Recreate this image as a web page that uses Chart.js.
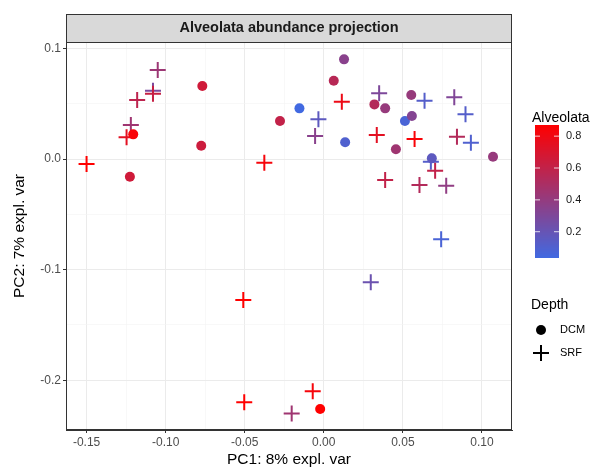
<!DOCTYPE html>
<html>
<head>
<meta charset="utf-8">
<script src="https://cdn.jsdelivr.net/npm/chart.js@4.4.1/dist/chart.umd.min.js"></script>
<style>
  html, body { margin: 0; padding: 0; background: #fff; }
  canvas { display: block; }
</style>
</head>
<body>
<canvas id="myChart" width="603" height="470"></canvas>
<script>
// DCM samples (circles)
const dcmX = [-0.1205, -0.1226, -0.0768, -0.0775, -0.0277, 0.0128, 0.0063, -0.0154, 0.0135,
  0.032, 0.0388, 0.0553, 0.0513, 0.0557, 0.0456, 0.107, 0.0683, -0.0023];
const dcmY = [0.0223, -0.016, 0.066, 0.012, 0.0344, 0.0901, 0.0708, 0.0458, 0.0151,
  0.0494, 0.0458, 0.0579, 0.0344, 0.0389, 0.0088, 0.0021, 0.0006, -0.226];
const dcmAlv = [0.845, 0.66, 0.66, 0.645, 0.60, 0.35, 0.555, 0.035, 0.10,
  0.535, 0.41, 0.41, 0.075, 0.33, 0.45, 0.41, 0.16, 0.87];

// SRF samples (crosses)
const srfX = [-0.150, -0.105, -0.108, -0.108, -0.118, -0.122, -0.1247, -0.0376, 0.0114, -0.0034,
  -0.0055, 0.035, 0.0335, 0.0637, 0.0574, 0.0825, 0.0896, 0.0842, 0.093, 0.0677,
  0.0704, 0.0388, 0.0605, 0.0774, -0.0509, -0.0503, 0.0742, 0.0297, -0.007, -0.0203];
const srfY = [-0.0045, 0.0805, 0.0618, 0.059, 0.0533, 0.0307, 0.0196, -0.0033, 0.0518, 0.0359,
  0.0208, 0.0594, 0.0217, 0.0527, 0.0181, 0.0558, 0.0404, 0.0202, 0.0148, -0.0024,
  -0.0106, -0.019, -0.0235, -0.0241, -0.1275, -0.220, -0.0726, -0.1115, -0.210, -0.230];
const srfAlv = [0.87, 0.435, 0.285, 0.62, 0.58, 0.45, 0.745, 0.83, 0.79, 0.16,
  0.35, 0.30, 0.745, 0.12, 0.845, 0.31, 0.12, 0.535, 0.10, 0.12,
  0.60, 0.60, 0.535, 0.385, 0.87, 0.87, 0.075, 0.22, 0.83, 0.45];

// ticks
const xTicks = [-0.15, -0.125, -0.10, -0.075, -0.05, -0.025, 0, 0.025, 0.05, 0.075, 0.10];
const yTicks = [-0.2, -0.15, -0.1, -0.05, 0, 0.05, 0.1];
const colTicks = [0.2, 0.4, 0.6, 0.8];

const FONT = "'Liberation Sans', Arial, sans-serif";

// colour gradient royalblue -> red
const lowCol = [65, 105, 225];
const highCol = [255, 0, 0];
const allAlv = dcmAlv.concat(srfAlv);
const alvMin = Math.min(...allAlv);
const alvMax = Math.max(...allAlv);
function alvColor(v) {
  const t = (v - alvMin) / (alvMax - alvMin);
  const c = lowCol.map((l, i) => Math.round(l + (highCol[i] - l) * t));
  return `rgb(${c[0]},${c[1]},${c[2]})`;
}

function isMajor(v, step) {
  return Math.abs(v / step - Math.round(v / step)) < 1e-6;
}

// strip, panel border and legends
const decorations = {
  id: 'decorations',
  afterDraw(chart) {
    const ctx = chart.ctx;
    const a = chart.chartArea;
    ctx.save();
    // panel border
    ctx.strokeStyle = '#333333';
    ctx.lineWidth = 1;
    ctx.strokeRect(a.left + 0.5, a.top + 0.5, a.right - a.left - 1, a.bottom - a.top - 1);
    // facet strip
    ctx.fillStyle = '#D9D9D9';
    ctx.fillRect(a.left, 14, a.right - a.left, a.top - 14);
    ctx.strokeRect(a.left + 0.5, 14.5, a.right - a.left - 1, a.top - 14);
    ctx.fillStyle = '#1A1A1A';
    ctx.font = "bold 14.5px " + FONT;
    ctx.textAlign = 'center';
    ctx.textBaseline = 'middle';
    ctx.fillText('Alveolata abundance projection', (a.left + a.right) / 2, 28);

    // colour bar
    const bx = 535, bw = 24, bTop = 125, bBot = 258;
    for (let y = bTop; y < bBot; y++) {
      const v = alvMax - (y - bTop + 0.5) / (bBot - bTop) * (alvMax - alvMin);
      ctx.fillStyle = alvColor(v);
      ctx.fillRect(bx, y, bw, 1);
    }
    ctx.textAlign = 'left';
    ctx.fillStyle = '#000';
    ctx.font = "14px " + FONT;
    ctx.fillText('Alveolata', 532, 118);
    ctx.font = "11px " + FONT;
    colTicks.forEach(v => {
      const y = bTop + (alvMax - v) / (alvMax - alvMin) * (bBot - bTop);
      ctx.strokeStyle = 'rgba(255,255,255,0.8)';
      ctx.beginPath();
      ctx.moveTo(bx, y); ctx.lineTo(bx + 5, y);
      ctx.moveTo(bx + bw - 5, y); ctx.lineTo(bx + bw, y);
      ctx.stroke();
      ctx.fillStyle = '#1A1A1A';
      ctx.fillText(v.toFixed(1), 566, y);
    });

    // shape legend
    ctx.font = "14px " + FONT;
    ctx.fillStyle = '#000';
    ctx.fillText('Depth', 531, 305);
    ctx.beginPath();
    ctx.arc(541, 330, 5, 0, Math.PI * 2);
    ctx.fill();
    ctx.strokeStyle = '#000';
    ctx.lineWidth = 2;
    ctx.beginPath();
    ctx.moveTo(533, 353); ctx.lineTo(549, 353);
    ctx.moveTo(541, 345); ctx.lineTo(541, 361);
    ctx.stroke();
    ctx.font = "11px " + FONT;
    ctx.fillText('DCM', 560, 330);
    ctx.fillText('SRF', 560, 353);
    ctx.restore();
  }
};

const ctx = document.getElementById('myChart').getContext('2d');

new Chart(ctx, {
  type: 'scatter',
  data: {
    datasets: [
      {
        label: 'DCM',
        data: dcmX.map((x, i) => ({ x: x, y: dcmY[i] })),
        pointStyle: 'circle',
        pointRadius: 5,
        borderWidth: 0,
        backgroundColor: dcmAlv.map(alvColor),
        borderColor: dcmAlv.map(alvColor)
      },
      {
        label: 'SRF',
        data: srfX.map((x, i) => ({ x: x, y: srfY[i] })),
        pointStyle: 'cross',
        pointRadius: 8,
        borderWidth: 2,
        backgroundColor: srfAlv.map(alvColor),
        borderColor: srfAlv.map(alvColor)
      }
    ]
  },
  options: {
    responsive: false,
    animation: false,
    layout: { padding: { top: 42, right: 91, left: 0, bottom: 0 } },
    plugins: {
      legend: { display: false },
      tooltip: { enabled: false }
    },
    scales: {
      x: {
        type: 'linear',
        min: -0.163,
        max: 0.119,
        afterBuildTicks: s => { s.ticks = xTicks.map(v => ({ value: v })); },
        afterFit: s => { s.height = 40; },
        ticks: {
          autoSkip: false,
          maxRotation: 0,
          padding: 2,
          color: '#4D4D4D',
          font: { family: FONT, size: 12 },
          callback: v => isMajor(v, 0.05) ? v.toFixed(2) : ''
        },
        grid: {
          color: c => isMajor(c.tick.value, 0.05) ? '#EBEBEB' : '#F4F4F4',
          lineWidth: c => isMajor(c.tick.value, 0.05) ? 1 : 0.6,
          tickColor: c => isMajor(c.tick.value, 0.05) ? '#333333' : 'rgba(0,0,0,0)',
          tickLength: 3
        },
        border: { display: true, color: '#333333' },
        title: {
          display: true,
          text: 'PC1: 8% expl. var',
          color: '#000',
          font: { family: FONT, size: 15.5 },
          padding: { top: 0, bottom: 1 }
        }
      },
      y: {
        type: 'linear',
        min: -0.245,
        max: 0.1058,
        afterBuildTicks: s => { s.ticks = yTicks.map(v => ({ value: v })); },
        afterFit: s => { s.width = 66; },
        ticks: {
          autoSkip: false,
          padding: 2,
          color: '#4D4D4D',
          font: { family: FONT, size: 12 },
          callback: v => isMajor(v, 0.1) ? v.toFixed(1) : ''
        },
        grid: {
          color: c => isMajor(c.tick.value, 0.1) ? '#EBEBEB' : '#F4F4F4',
          lineWidth: c => isMajor(c.tick.value, 0.1) ? 1 : 0.6,
          tickColor: c => isMajor(c.tick.value, 0.1) ? '#333333' : 'rgba(0,0,0,0)',
          tickLength: 3
        },
        border: { display: true, color: '#333333' },
        title: {
          display: true,
          text: 'PC2: 7% expl. var',
          color: '#000',
          font: { family: FONT, size: 15.5 },
          padding: { top: 10, bottom: 0 }
        }
      }
    }
  },
  plugins: [decorations]
});
</script>
</body>
</html>
